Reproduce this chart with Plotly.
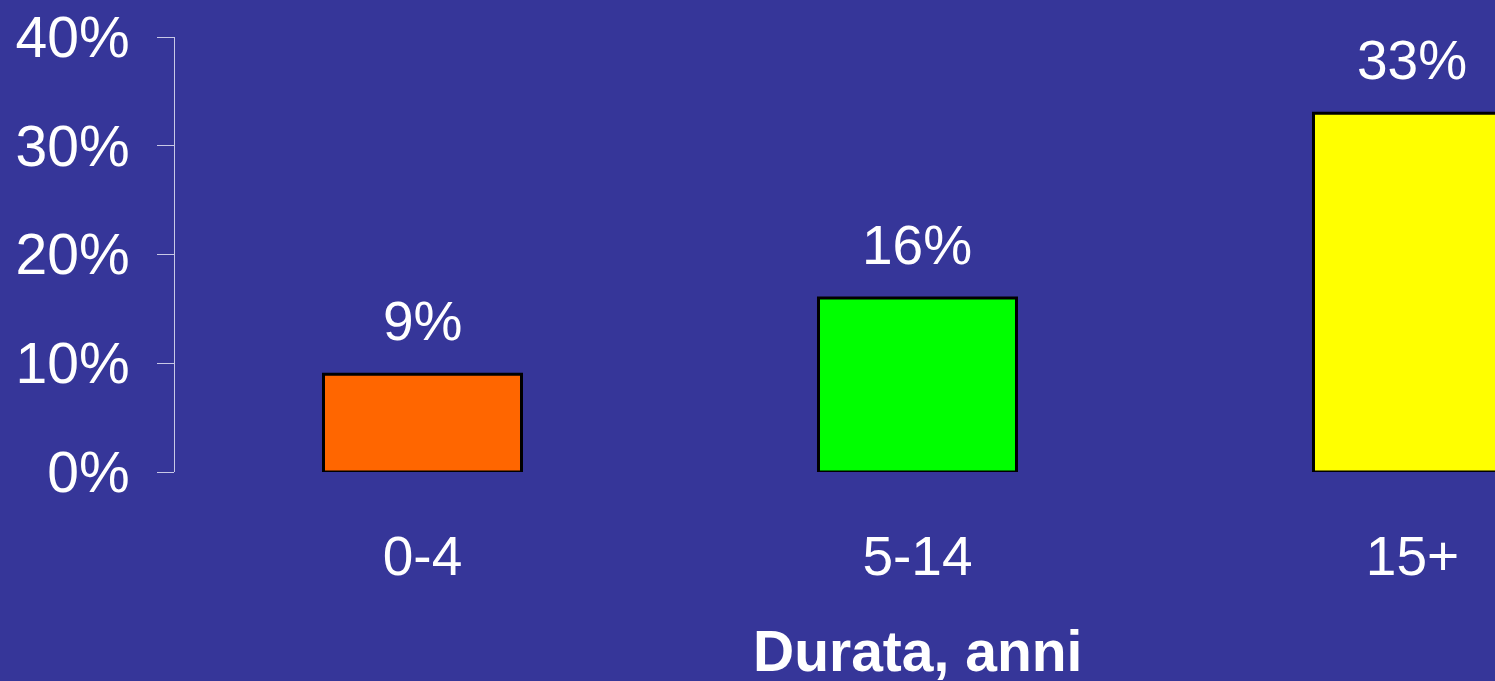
import plotly.graph_objects as go

categories = ["0-4", "5-14", "15+"]
values = [9, 16, 33]
bar_labels = ["9%", "16%", "33%"]
bar_colors = ["#FF6600", "#00FF00", "#FFFF00"]
y_ticks = [0, 10, 20, 30, 40]
y_tick_labels = ["0%", "10%", "20%", "30%", "40%"]
x_title = "Durata, anni"

BG = "#363699"
AXIS = "#C8C8E6"
FONT = "Liberation Sans, Arial, sans-serif"

fig = go.Figure()
fig.add_trace(go.Bar(
    x=categories, y=values, width=0.4,
    marker=dict(color=bar_colors, line=dict(color="black", width=3)),
    hoverinfo="skip",
))

annotations = []
for c, v, t in zip(categories, values, bar_labels):
    annotations.append(dict(x=c, y=v, text=t, showarrow=False, xref="x", yref="y",
                            yanchor="bottom", yshift=20,
                            font=dict(family=FONT, size=55, color="white")))
annotations.append(dict(x=categories[1], y=0, text="<b>" + x_title + "</b>", showarrow=False,
                        xref="x", yref="y", yanchor="middle", yshift=-179,
                        font=dict(family=FONT, size=57, color="white")))

fig.update_layout(
    width=1495, height=681,
    margin=dict(l=175, r=0, t=37, b=209),
    paper_bgcolor=BG, plot_bgcolor=BG,
    showlegend=False,
    annotations=annotations,
    xaxis=dict(type="category", range=[-0.5, 2.1667], showline=False, showgrid=False,
               zeroline=False, ticks="", ticklabelstandoff=47,
               tickfont=dict(family=FONT, size=55, color="white")),
    yaxis=dict(range=[0, 40], tickmode="array", tickvals=y_ticks, ticktext=y_tick_labels,
               showgrid=False, zeroline=False,
               showline=True, linecolor=AXIS, linewidth=1,
               ticks="outside", ticklen=17, tickwidth=1, tickcolor=AXIS,
               ticklabelstandoff=16,
               tickfont=dict(family=FONT, size=57, color="white")),
)

post = """
document.body.style.margin = '0';
document.body.style.background = '#363699';
"""
fig.write_html("out.html", post_script=post, config={"displayModeBar": False})
